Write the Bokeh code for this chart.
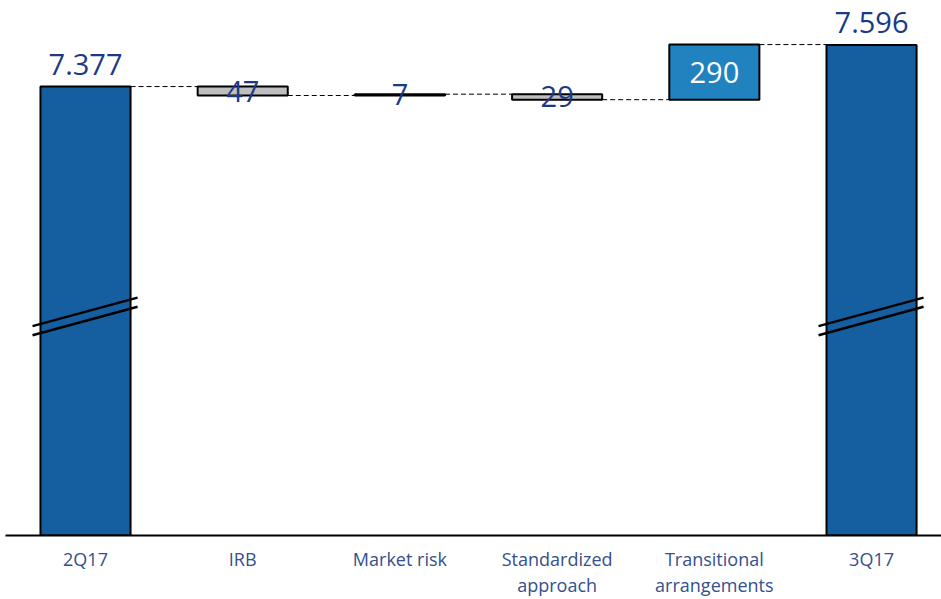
from bokeh.plotting import figure
from bokeh.models import Range1d, FixedTicker, ColumnDataSource
from bokeh.embed import file_html
from bokeh.resources import INLINE
from bokeh.core.properties import value

# --- data -------------------------------------------------------------
categories = ["2Q17", "IRB", "Market risk", "Standardized\napproach",
              "Transitional\narrangements", "3Q17"]
start_total = 7377
end_total = 7596
deltas = [-47, 7, -29, 290]
total_labels = ["7.377", "7.596"]
delta_labels = ["47", "7", "29", "290"]

# --- styling ----------------------------------------------------------
TOTAL_COLOR = "#155EA0"
STEP_COLORS = ["#BFBFBF", "#BFBFBF", "#BFBFBF", "#2182C0"]
STEP_TEXT_COLORS = ["#1B3A86", "#1B3A86", "#1B3A86", "white"]
TEXT_COLOR = "#1B3A86"
AXIS_TEXT_COLOR = "#34508E"
FONT = "Open Sans"
BAR_W = 0.573

# broken value axis: the visible range starts well above zero
Y_MIN, Y_MAX = 5014, 7830

xs = list(range(len(categories)))

# running totals after each step
levels = [start_total]
for d in deltas:
    levels.append(levels[-1] + d)

p = figure(width=941, height=599,
           x_range=Range1d(-0.509, 5.445), y_range=Range1d(Y_MIN, Y_MAX),
           output_backend="svg", toolbar_location=None,
           y_axis_location=None,
           min_border_left=5, min_border_right=0,
           min_border_top=0, min_border_bottom=64)
p.outline_line_color = None
p.xgrid.visible = False
p.ygrid.visible = False
p.background_fill_color = "white"
p.border_fill_color = "white"

# total bars
tot_src = ColumnDataSource(dict(x=[xs[0], xs[-1]], top=[start_total, end_total],
                                lab=total_labels))
p.vbar(x="x", top="top", bottom=Y_MIN, width=BAR_W, source=tot_src,
       fill_color=TOTAL_COLOR, line_color="black", line_width=2)

# step bars
step_src = ColumnDataSource(dict(
    x=xs[1:-1],
    bottom=[min(levels[i], levels[i + 1]) for i in range(len(deltas))],
    top=[max(levels[i], levels[i + 1]) for i in range(len(deltas))],
    mid=[(levels[i] + levels[i + 1]) / 2 for i in range(len(deltas))],
    color=STEP_COLORS, tcolor=STEP_TEXT_COLORS, lab=delta_labels))
p.vbar(x="x", top="top", bottom="bottom", width=BAR_W, source=step_src,
       fill_color="color", line_color="black", line_width=2)

# dashed connectors between neighbouring bars
conn_src = ColumnDataSource(dict(
    x0=[x + BAR_W / 2 for x in xs[:-1]],
    x1=[x + 1 - BAR_W / 2 for x in xs[:-1]],
    y=levels))
p.segment(x0="x0", y0="y", x1="x1", y1="y", source=conn_src,
          line_color="black", line_width=1, line_dash="5 3")

# axis-break marks across the total bars
BREAK_BASE = 6068
BREAK_GAP = 48
BREAK_RISE = 150
bx0, by0, bx1, by1 = [], [], [], []
for x in (xs[0], xs[-1]):
    for k in range(2):
        bx0.append(x - 0.337)
        bx1.append(x + 0.331)
        by0.append(BREAK_BASE + k * BREAK_GAP)
        by1.append(BREAK_BASE + k * BREAK_GAP + BREAK_RISE)
p.segment(x0=bx0, y0=by0, x1=bx1, y1=by1, line_color="black", line_width=2.5)

# value labels
p.text(x="x", y="top", text="lab", source=tot_src,
       text_font=value(FONT), text_font_size="29px", text_color=TEXT_COLOR,
       text_align="center", text_baseline="alphabetic", y_offset=-22)
p.text(x="x", y="mid", text="lab", source=step_src,
       text_font=value(FONT), text_font_size="29px", text_color="tcolor",
       text_align="center", text_baseline="middle")

# category axis
ax = p.xaxis[0]
ax.ticker = FixedTicker(ticks=xs)
ax.major_label_overrides = {i: c for i, c in enumerate(categories)}
ax.major_tick_line_color = None
ax.minor_tick_line_color = None
ax.axis_line_color = "black"
ax.axis_line_width = 2
ax.major_label_standoff = 5
ax.major_label_text_font = FONT
ax.major_label_text_font_size = "18px"
ax.major_label_text_color = AXIS_TEXT_COLOR
ax.major_label_text_line_height = 1.1

open("out.html", "w").write(file_html(p, INLINE))
